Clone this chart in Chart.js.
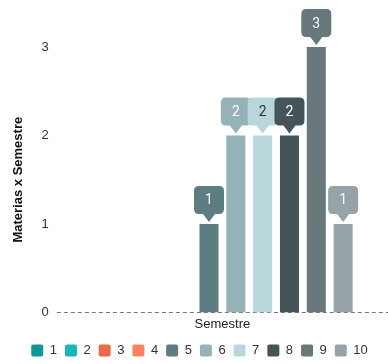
<!DOCTYPE html>
<html>
<head>
<meta charset="utf-8">
<script src="https://cdn.jsdelivr.net/npm/chart.js@4/dist/chart.umd.min.js"></script>
<style>
  html, body { margin: 0; padding: 0; background: #fff; }
  #wrap { width: 388px; height: 364px; }
</style>
</head>
<body>
<div id="wrap"><canvas id="c" width="388" height="364"></canvas></div>
<script>
// Categories and series
const categories = ['Semestre'];
const seriesNames = ['1', '2', '3', '4', '5', '6', '7', '8', '9', '10'];
const seriesValues = [0, 0, 0, 0, 1, 2, 2, 2, 3, 1];
const seriesColors = ['#12969a', '#17b6bd', '#e76a4b', '#ff7f62', '#5e7d82',
                      '#95b2b7', '#b8d6dc', '#455458', '#68777a', '#97a3a6'];
const labelTextColors = ['#fff', '#fff', '#fff', '#fff', '#fff',
                         '#fff', '#333', '#fff', '#fff', '#fff'];
const yTicks = [0, 1, 2, 3];

const FONT = "'Liberation Sans', Arial, sans-serif";

// Dashed baseline at zero
const zeroLine = {
  id: 'zeroLine',
  beforeDatasetsDraw(chart) {
    const { ctx, chartArea, scales } = chart;
    const y = Math.round(scales.y.getPixelForValue(0)) + 0.5;
    ctx.save();
    ctx.strokeStyle = '#777';
    ctx.lineWidth = 1;
    ctx.setLineDash([4, 3]);
    ctx.beginPath();
    ctx.moveTo(chartArea.left, y);
    ctx.lineTo(chartArea.right, y);
    ctx.stroke();
    ctx.restore();
  }
};

// Tighter legend block so it sits closer to the bottom edge
const compactLegend = {
  id: 'compactLegend',
  beforeUpdate(chart) {
    const lg = chart.legend;
    if (lg && !lg._compact) {
      const fit = lg.fit;
      lg.fit = function () {
        fit.call(this);
        this.height -= 7;
      };
      lg._compact = true;
    }
  }
};

// Callout bubbles with the value above each bar
const callouts = {
  id: 'callouts',
  afterDatasetsDraw(chart) {
    const { ctx } = chart;
    chart.data.datasets.forEach((ds, i) => {
      const meta = chart.getDatasetMeta(i);
      meta.data.forEach((bar, j) => {
        const v = ds.data[j];
        if (!v) return;
        const w = 30, h = 28, r = 5, tipH = 8, tipW = 12, gap = 2;
        const cx = bar.x;
        const tipY = bar.y - gap;
        const bottom = tipY - tipH;
        const top = bottom - h;
        const left = cx - w / 2, right = cx + w / 2;
        ctx.save();
        ctx.fillStyle = ds.backgroundColor;
        ctx.beginPath();
        ctx.moveTo(left + r, top);
        ctx.lineTo(right - r, top);
        ctx.quadraticCurveTo(right, top, right, top + r);
        ctx.lineTo(right, bottom - r);
        ctx.quadraticCurveTo(right, bottom, right - r, bottom);
        ctx.lineTo(cx + tipW / 2, bottom);
        ctx.lineTo(cx, tipY);
        ctx.lineTo(cx - tipW / 2, bottom);
        ctx.lineTo(left + r, bottom);
        ctx.quadraticCurveTo(left, bottom, left, bottom - r);
        ctx.lineTo(left, top + r);
        ctx.quadraticCurveTo(left, top, left + r, top);
        ctx.closePath();
        ctx.fill();
        ctx.fillStyle = labelTextColors[i];
        ctx.font = "14px Roboto, sans-serif";
        ctx.textAlign = 'center';
        ctx.textBaseline = 'middle';
        ctx.fillText(String(v), cx, top + h / 2 + 1);
        ctx.restore();
      });
    });
  }
};

new Chart(document.getElementById('c'), {
  type: 'bar',
  data: {
    labels: categories,
    datasets: seriesNames.map((name, i) => ({
      label: name,
      data: [seriesValues[i]],
      backgroundColor: seriesColors[i],
      borderWidth: 0
    }))
  },
  options: {
    responsive: false,
    animation: false,
    devicePixelRatio: 1,
    categoryPercentage: 0.81,
    barPercentage: 0.71,
    layout: { padding: { top: 47, right: 0, left: 11, bottom: 4 } },
    plugins: {
      legend: {
        position: 'bottom',
        labels: {
          boxWidth: 12,
          boxHeight: 12,
          useBorderRadius: true,
          borderRadius: 2,
          padding: 8,
          color: '#333',
          font: { family: FONT, size: 13 }
        }
      },
      tooltip: { enabled: false }
    },
    scales: {
      x: {
        grid: { display: false, drawTicks: false },
        border: { display: false },
        ticks: { color: '#222', font: { family: FONT, size: 13 }, padding: 4 }
      },
      y: {
        min: 0,
        max: 3,
        afterBuildTicks(axis) { axis.ticks = yTicks.map(v => ({ value: v })); },
        grid: { display: false, drawTicks: false },
        border: { display: false },
        ticks: { color: '#333', font: { family: FONT, size: 13 }, padding: 8 },
        title: {
          display: true,
          text: 'Materias x Semestre',
          color: '#111',
          font: { family: FONT, size: 13, weight: 'bold' },
          padding: { top: 0, bottom: 7 }
        }
      }
    }
  },
  plugins: [compactLegend, zeroLine, callouts]
});
</script>
</body>
</html>
